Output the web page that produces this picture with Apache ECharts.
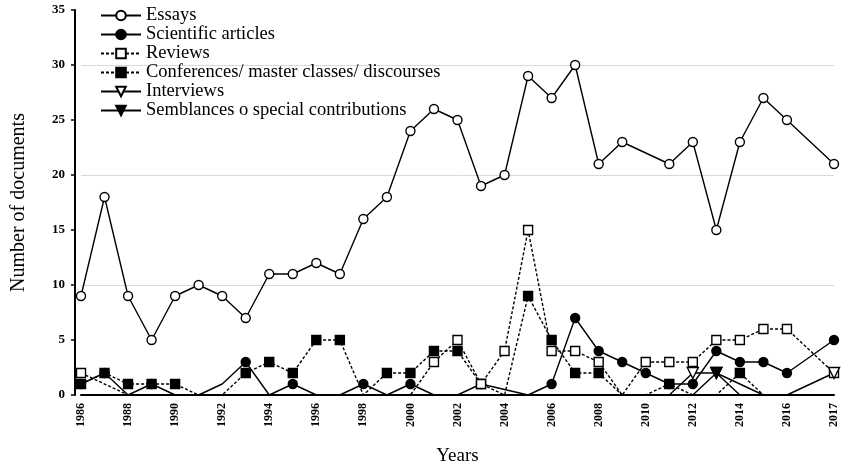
<!DOCTYPE html>
<html><head><meta charset="utf-8">
<script src="https://cdn.jsdelivr.net/npm/echarts@6/dist/echarts.min.js"></script>
<style>html,body{margin:0;padding:0;background:#fff}#c{width:844px;height:472px}</style>
</head><body><div id="c"></div>
<script>
// x categories (a blank slot precedes 2017, as in the original chart)
const years = ['1986','1987','1988','1989','1990','1991','1992','1993','1994','1995','1996','1997','1998','1999','2000','2001','2002','2003','2004','2005','2006','2007','2008','2009','2010','2011','2012','2013','2014','2015','2016','','2017'];
const essays      = [9,18,9,5,9,10,9,7,11,11,12,11,16,18,24,26,25,19,20,29,27,30,21,23,null,21,23,15,23,27,25,null,21];
const scientific  = [1,2,0,1,0,0,1,3,0,1,0,0,1,0,1,0,0,1,null,0,1,7,4,3,2,1,1,4,3,3,2,null,5];
const reviews     = [2,null,0,0,0,0,0,0,0,0,0,0,0,0,0,3,5,1,4,15,4,4,3,0,3,3,3,5,5,6,6,null,2];
const conferences = [1,2,1,1,1,0,0,2,3,2,5,5,0,2,2,4,4,1,0,9,5,2,2,0,0,1,0,0,2,0,0,null,0];
const interviews  = [0,0,0,0,0,0,0,0,0,0,0,0,0,0,0,0,0,0,0,0,0,0,0,0,0,0,2,2,null,0,0,null,2];
const semblances  = [0,0,0,0,0,0,0,0,0,0,0,0,0,0,0,0,0,0,0,0,0,0,0,0,0,0,0,2,0,0,0,null,0];
const seriesNames = ['Essays','Scientific articles','Reviews','Conferences/ master classes/ discourses','Interviews','Semblances o special contributions'];

const FONT = '"Liberation Serif","Times New Roman",serif';
const DOWN_TRI = 'path://M0,0L10,0L5,9Z';
function sizeFn(size){ return function(v){ const n = Array.isArray(v) ? v[1] : v; return n === 0 ? 0 : size; }; }
function mk(name, data, symbol, size, filled, dashed){
  return {
    name: name, type: 'line', data: data, connectNulls: true, showAllSymbol: true,
    symbol: symbol, symbolSize: sizeFn(size),
    lineStyle: {color: '#000', width: 1.4, type: dashed ? [3, 2] : 'solid'},
    itemStyle: {color: filled ? '#000' : '#fff', borderColor: '#000', borderWidth: 1.4},
    emphasis: {disabled: true}
  };
}
// scientific 1992 point is drawn without a marker in the original
const sciData = scientific.map((v, i) => years[i] === '1992' ? {value: v, symbol: 'none'} : v);

const chart = echarts.init(document.getElementById('c'));
chart.setOption({
  animation: false,
  backgroundColor: '#fff',
  grid: {left: 81, right: 10, top: 10, bottom: 77, containLabel: false, outerBoundsMode: 'none'},
  legend: {
    orient: 'vertical', left: 95, top: 1, itemWidth: 40, itemHeight: 12, itemGap: 0,
    data: seriesNames,
    textStyle: {fontFamily: FONT, fontSize: 18.5, color: '#000'}
  },
  xAxis: {
    type: 'category', data: years, boundaryGap: false,
    axisLine: {lineStyle: {color: '#000', width: 2}},
    axisTick: {show: false},
    axisLabel: {interval: 1, rotate: 90, fontFamily: FONT, fontSize: 12, fontWeight: 'bold', color: '#000', margin: 8},
    name: 'Years', nameLocation: 'middle', nameGap: 52,
    nameTextStyle: {fontFamily: FONT, fontSize: 19, color: '#000'}
  },
  yAxis: {
    type: 'value', min: 0, max: 35, interval: 5, offset: 6,
    axisLine: {show: true, lineStyle: {color: '#000', width: 2}},
    axisTick: {show: true, length: 4, lineStyle: {color: '#000', width: 1.5}},
    axisLabel: {fontFamily: FONT, fontSize: 13, fontWeight: 'bold', color: '#000', margin: 10},
    splitLine: {show: true, lineStyle: {color: ['#d9d9d9', 'rgba(0,0,0,0)'], width: 1}},
    name: 'Number of documents', nameLocation: 'middle', nameGap: 46,
    nameTextStyle: {fontFamily: FONT, fontSize: 20, color: '#000'}
  },
  series: [
    mk(seriesNames[0], essays, 'circle', 9, false, false),
    mk(seriesNames[1], sciData, 'circle', 9, true, false),
    mk(seriesNames[3], conferences, 'rect', 9, true, true),
    mk(seriesNames[2], reviews, 'rect', 9, false, true),
    mk(seriesNames[4], interviews, DOWN_TRI, 11, false, false),
    mk(seriesNames[5], semblances, DOWN_TRI, 11, true, false)
  ]
});
</script></body></html>
